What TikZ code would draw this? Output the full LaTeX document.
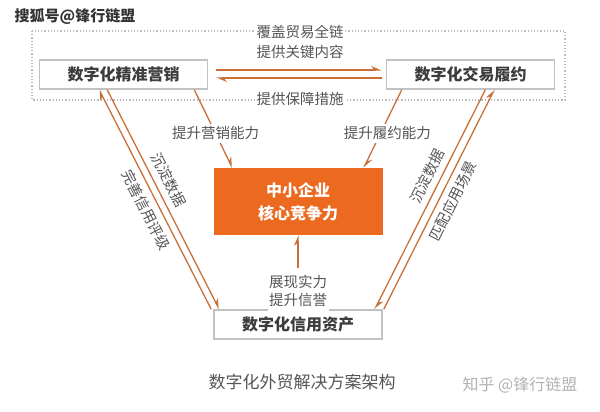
\documentclass[tikz,border=0pt]{standalone}
\usepackage{fontspec}
\setmainfont{Noto Sans CJK SC}
\usetikzlibrary{arrows.meta, positioning}
\definecolor{linec}{RGB}{201,112,56}
\definecolor{corec}{RGB}{235,106,32}
\definecolor{boxc}{RGB}{194,194,194}
\definecolor{txtc}{RGB}{60,60,60}
\definecolor{lblc}{RGB}{85,85,85}

\begin{document}
\begin{tikzpicture}[x=1pt, y=-1pt,
  box/.style={draw=boxc, line width=1.6pt, fill=white, minimum width=168pt, minimum height=29pt, inner sep=0pt, font=\fontsize{16}{18}\selectfont\bfseries, text=txtc},
  corebox/.style={fill=corec, minimum width=169pt, minimum height=67pt, align=center, font=\fontsize{16}{23}\selectfont\bfseries, text=white},
  lbl/.style={font=\fontsize{14.5}{18}\selectfont, text=lblc, inner sep=1.5pt},
  harp/.style={-{Stealth[harpoon, length=9pt, width=8pt]}, line width=1.3pt, linec}
]
\useasboundingbox (0,0) rectangle (600,412);
\draw[gray!55, dotted, line width=1.2pt] (32,31) rectangle (565,100);

\node[box] (mkt) at (123.5,74.5) {数字化精准营销};
\node[box] (trd) at (470.5,74.5) {数字化交易履约};
\node[corebox] (core) at (298,201.5) {中小企业\\核心竞争力};
\node[box] (crd) at (298,324.5) {数字化信用资产};

\node[lbl, fill=white] (cov) at (300,32) {覆盖贸易全链};
\node[lbl] (key) at (300,52) {提供关键内容};
\node[lbl, fill=white] (grt) at (300,99) {提供保障措施};

\draw[harp] ([xshift=8pt,yshift=4.5pt]mkt.east) -- ([xshift=-4pt,yshift=4.5pt]trd.west);
\draw[harp] ([xshift=-4pt,yshift=-3.5pt]trd.west) -- ([xshift=8pt,yshift=-3.5pt]mkt.east);

\draw[harp] ([xshift=-2pt]crd.north west) -- node[lbl, pos=0.48, sloped, below=4pt] {完善信用评级} ([xshift=60.5pt]mkt.south west);
\draw[harp] ([xshift=68.5pt]mkt.south west) -- node[lbl, pos=0.44, sloped, above=5pt] {沉淀数据} ([xshift=6pt]crd.north west);
\draw[harp] ([xshift=-70pt]trd.south east) -- node[lbl, pos=0.42, sloped, above=4pt] {沉淀数据} ([xshift=-8pt]crd.north east);
\draw[harp] ([xshift=1pt]crd.north east) -- node[lbl, pos=0.52, sloped, below=4pt] {匹配应用场景} ([xshift=-61pt]trd.south east);

\draw[harp] ([xshift=-14pt]mkt.south east) -- node[lbl, fill=white, pos=0.56, inner ysep=3pt] {提升营销能力} ([xshift=19pt]core.north west);
\draw[harp] ([xshift=16pt]trd.south west) -- node[lbl, fill=white, pos=0.56, inner ysep=3pt, xshift=7pt] {提升履约能力} ([xshift=-19pt]core.north east);
\draw[harp] (crd.north) -- node[lbl, fill=white, align=center, pos=0.25, inner ysep=7pt] {展现实力\\提升信誉} (core.south);

\node[font=\fontsize{17}{20}\selectfont, text=lblc] (ttl) at (302,382) {数字化外贸解决方案架构};
\node[font=\fontsize{15}{18}\selectfont\bfseries, text=black!80] (wm1) at (75,16.5) {搜狐号@锋行链盟};
\node[font=\fontsize{16}{18}\selectfont, text=black!30] (wm2) at (520,385) {知乎 @锋行链盟};
\end{tikzpicture}
\end{document}
